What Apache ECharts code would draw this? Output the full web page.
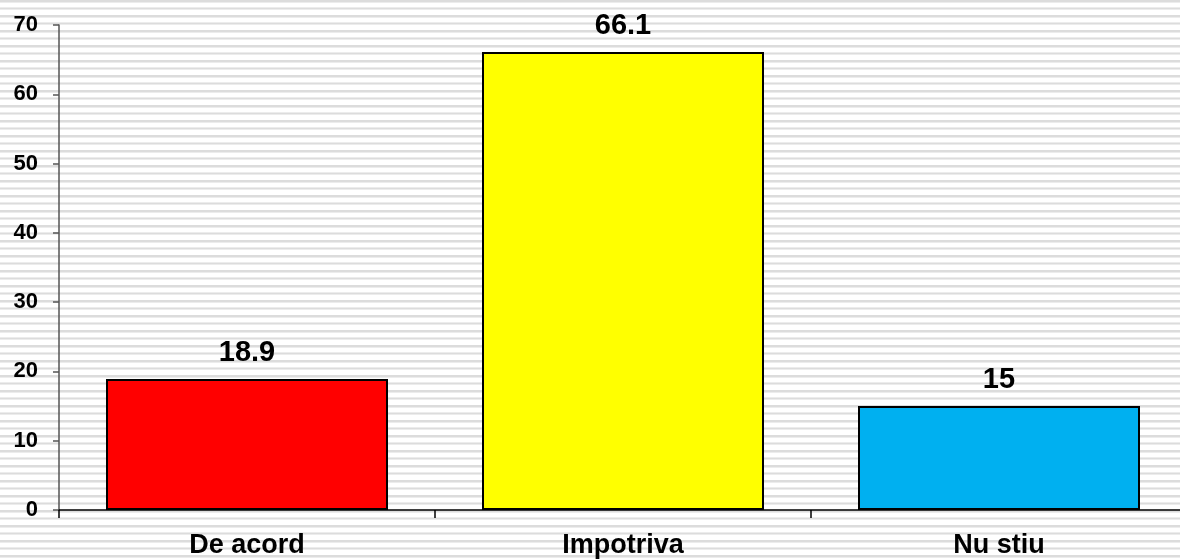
<!DOCTYPE html>
<html>
<head>
<meta charset="utf-8">
<script src="https://cdn.jsdelivr.net/npm/echarts@6/dist/echarts.min.js"></script>
<style>
html,body{margin:0;padding:0;background:#fff;overflow:hidden;width:1180px;height:559px;}
#chart{width:1190px;height:559px;}
</style>
</head>
<body>
<div id="chart"></div>
<script>
const categories = ['De acord', 'Impotriva', 'Nu stiu'];
const values = [18.9, 66.1, 15];
const barColors = ['#FF0000', '#FFFF00', '#00B0F0'];
const yTicks = [0, 10, 20, 30, 40, 50, 60, 70];

// striped background tile
const tile = document.createElement('canvas');
tile.width = 4; tile.height = 15;
const ctx = tile.getContext('2d');
ctx.fillStyle = '#ffffff'; ctx.fillRect(0, 0, 4, 15);
ctx.fillStyle = '#dcdcdc';
ctx.fillRect(0, 0, 4, 2);
ctx.fillRect(0, 8, 4, 1);
ctx.fillStyle = '#ececec';
ctx.fillRect(0, 2, 4, 1);
ctx.fillRect(0, 7, 4, 1);
ctx.fillRect(0, 9, 4, 1);

const chart = echarts.init(document.getElementById('chart'), null, {renderer: 'canvas'});
chart.setOption({
  backgroundColor: {image: tile, repeat: 'repeat'},
  animation: false,
  grid: {left: 59, right: 3, top: 25, bottom: 48, containLabel: false},
  xAxis: {
    type: 'category',
    data: categories,
    axisLine: {lineStyle: {color: '#000', width: 1.5}},
    axisTick: {show: true, alignWithLabel: false, length: 8, lineStyle: {color: '#000', width: 1.5}},
    axisLabel: {
      margin: 22,
      fontFamily: 'Liberation Sans, Arial, sans-serif',
      fontWeight: 'bold', fontSize: 27, color: '#000'
    },
    splitLine: {show: false}
  },
  yAxis: {
    type: 'value',
    min: yTicks[0],
    max: yTicks[yTicks.length - 1],
    interval: 10,
    axisLine: {show: true, lineStyle: {color: '#555', width: 1.5}},
    axisTick: {show: true, length: 6, lineStyle: {color: '#555', width: 1.5}},
    axisLabel: {
      margin: 21,
      fontFamily: 'Liberation Sans, Arial, sans-serif',
      fontWeight: 'bold', fontSize: 22, color: '#000'
    },
    splitLine: {show: false}
  },
  series: [{
    type: 'bar',
    data: values.map((v, i) => ({value: v, itemStyle: {color: barColors[i]}})),
    barCategoryGap: '25%',
    itemStyle: {borderColor: '#000', borderWidth: 2},
    label: {
      show: true, position: 'top', distance: 12,
      fontFamily: 'Liberation Sans, Arial, sans-serif',
      fontWeight: 'bold', fontSize: 29, color: '#000'
    }
  }]
});
</script>
</body>
</html>
